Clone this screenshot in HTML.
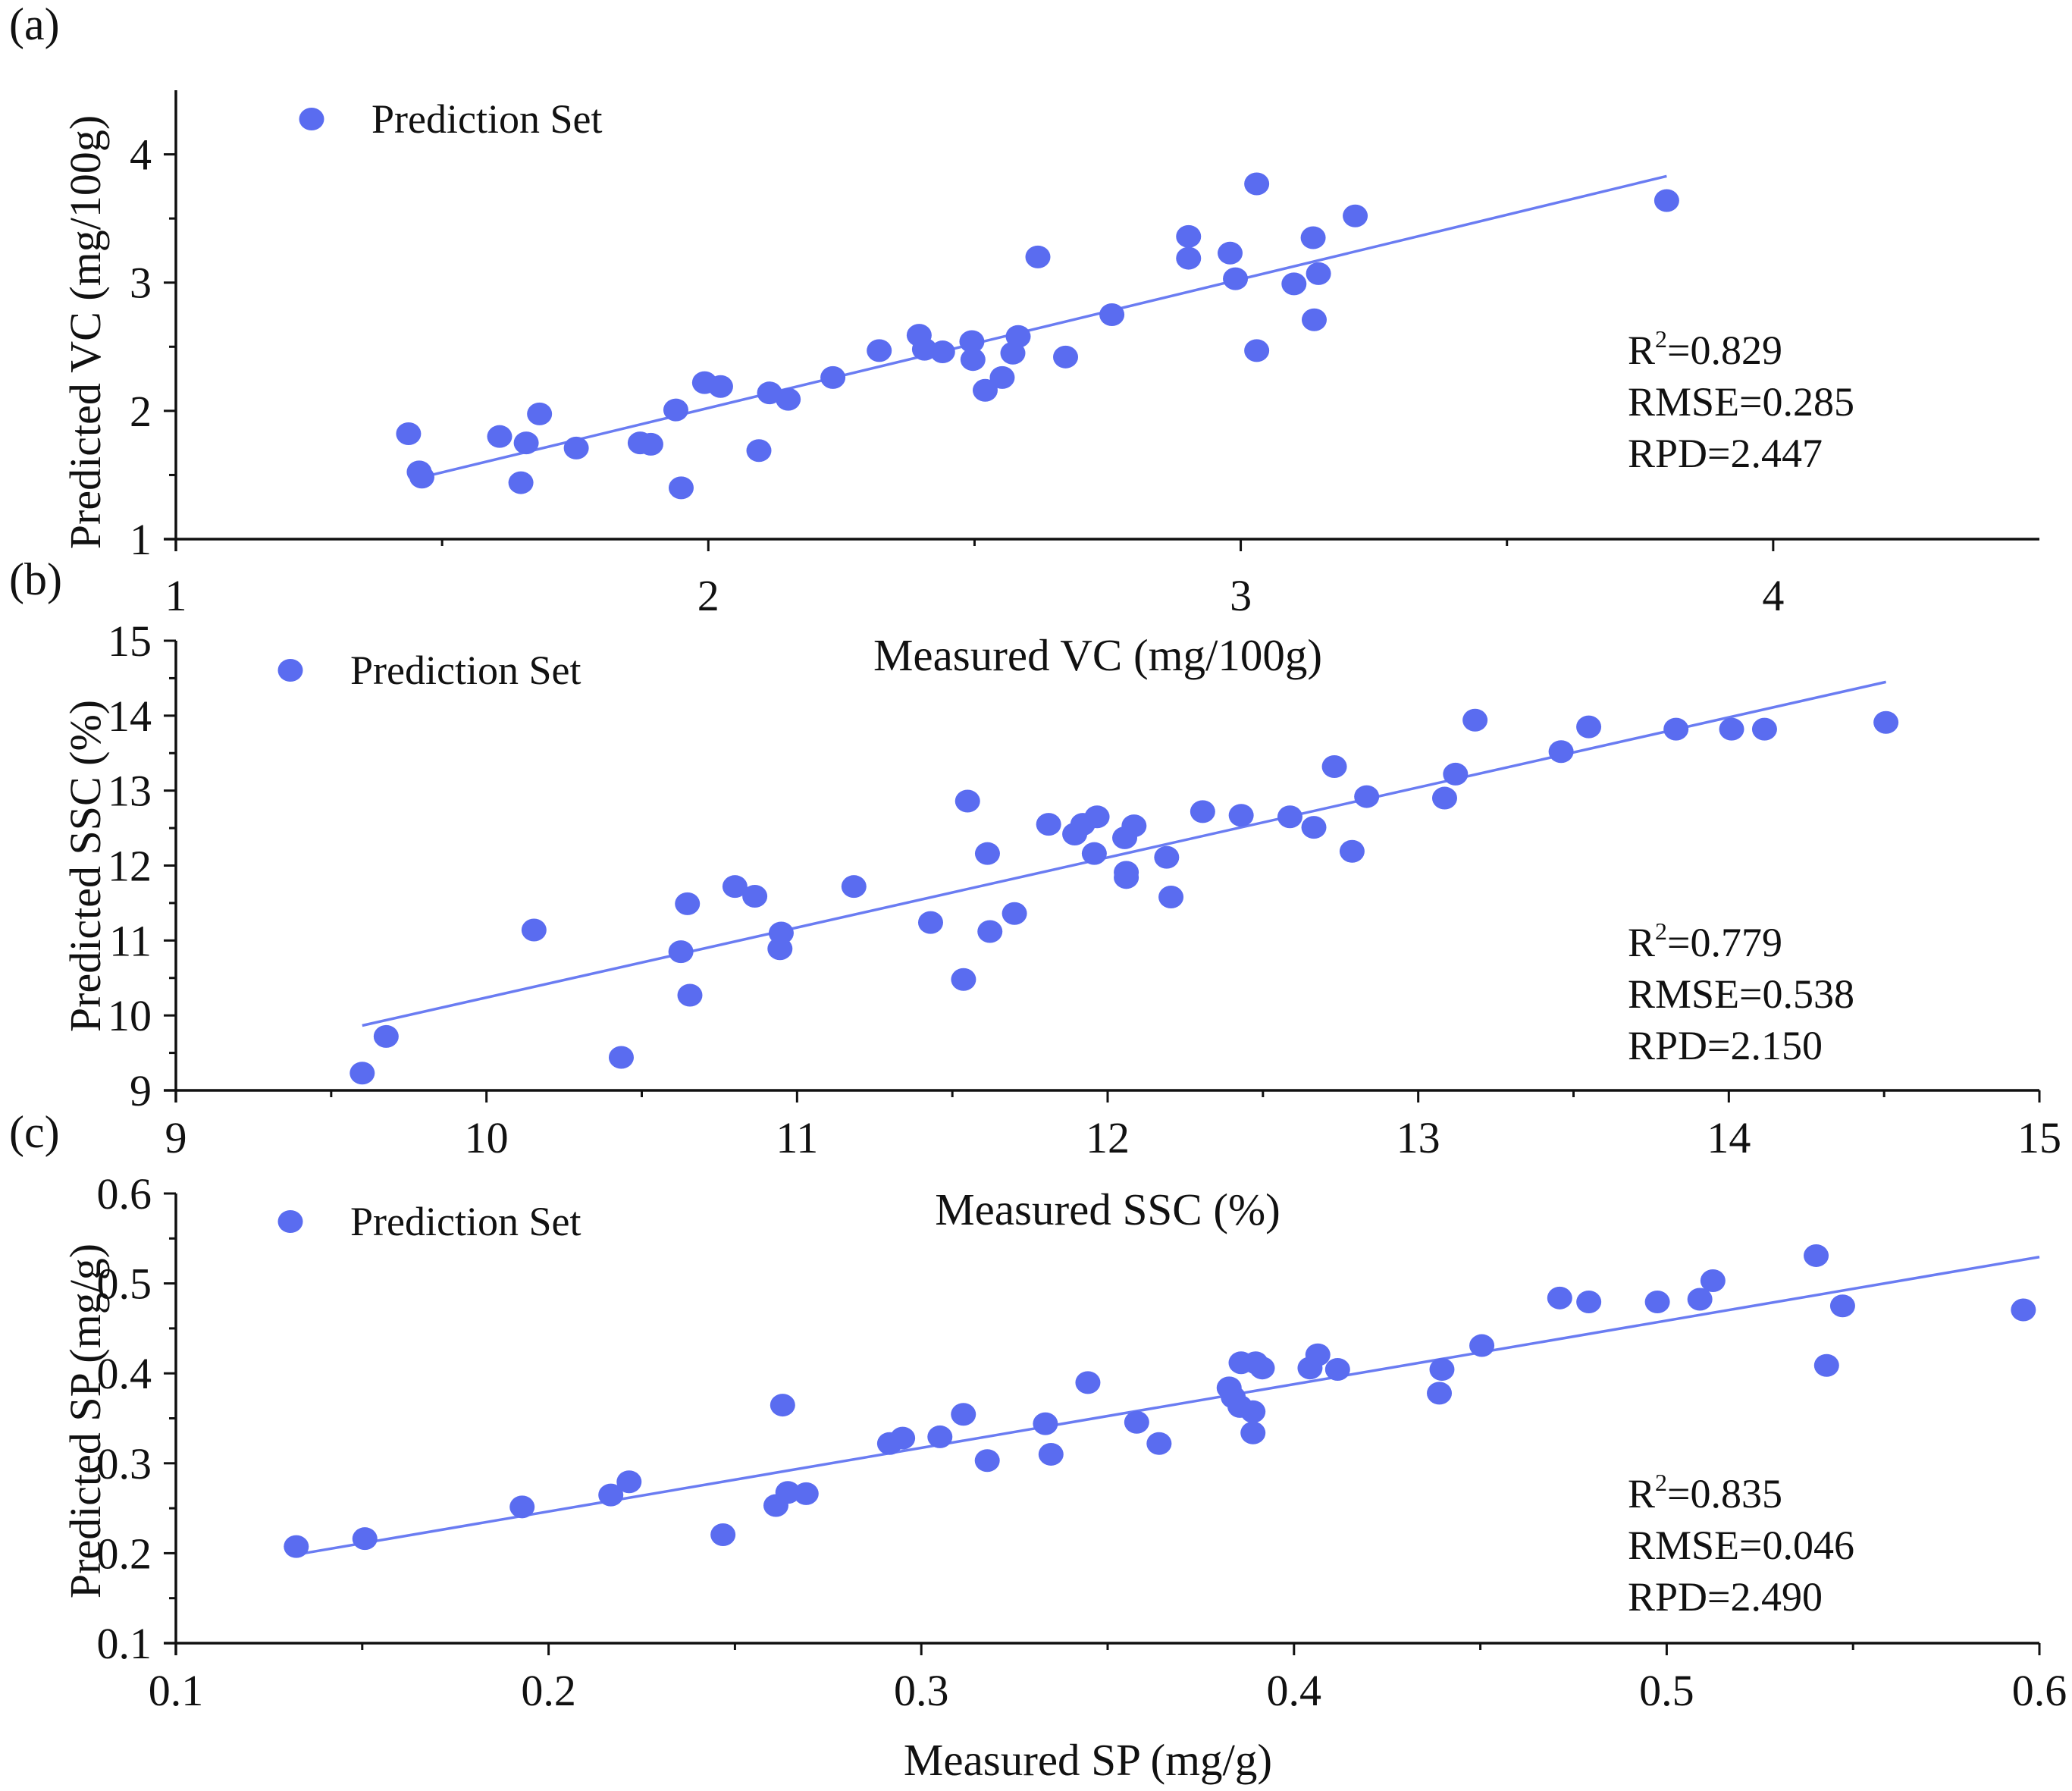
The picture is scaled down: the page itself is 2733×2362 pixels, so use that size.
<!DOCTYPE html>
<html><head><meta charset="utf-8"><style>
html,body{margin:0;padding:0;background:#fff;}
svg{display:block;font-family:"Liberation Serif",serif;}
</style></head><body>
<svg id="chart" width="2733" height="2362" viewBox="0 0 2733 2362" xmlns="http://www.w3.org/2000/svg"></svg>
<script>
// Panel (a) VC
const vcMeasured=[1.437,1.457,1.462,1.608,1.648,1.658,1.683,1.752,1.872,1.892,1.939,1.949,1.993,2.023,2.095,2.115,2.150,2.234,2.321,2.396,2.406,2.44,2.495,2.497,2.52,2.552,2.572,2.582,2.619,2.671,2.758,2.902,2.902,2.98,2.99,3.03,3.03,3.10,3.136,3.138,3.146,3.215,3.80];
const vcPredicted=[1.822,1.524,1.483,1.80,1.44,1.75,1.976,1.71,1.75,1.74,2.007,1.40,2.22,2.19,1.69,2.14,2.09,2.26,2.47,2.59,2.48,2.46,2.54,2.40,2.16,2.26,2.45,2.58,3.20,2.42,2.75,3.36,3.19,3.23,3.03,3.77,2.47,2.99,3.35,2.71,3.07,3.52,3.64];
const vcFitX=[1.46,3.80];
const vcFitY=[1.48,3.83];
const vcXTicks=[1,2,3,4];
const vcYTicks=[1,2,3,4];
const vcStats=["0.829","0.285","2.447"];
// Panel (b) SSC
const sscMeasured=[9.60,9.677,10.153,10.434,10.626,10.647,10.655,10.80,10.864,10.945,10.949,11.183,11.43,11.536,11.549,11.613,11.621,11.70,11.81,11.894,11.92,11.966,11.957,12.055,12.06,12.06,12.085,12.19,12.204,12.306,12.43,12.587,12.664,12.73,12.787,12.834,13.085,13.12,13.183,13.46,13.549,13.83,14.009,14.115,14.506];
const sscPredicted=[9.23,9.72,11.14,9.44,10.85,11.49,10.27,11.72,11.59,10.89,11.10,11.72,11.24,10.48,12.86,12.16,11.12,11.36,12.55,12.42,12.55,12.65,12.16,12.37,11.91,11.84,12.53,12.11,11.58,12.72,12.67,12.65,12.51,13.32,12.19,12.92,12.90,13.22,13.94,13.52,13.85,13.82,13.82,13.82,13.91];
const sscFitX=[9.60,14.506];
const sscFitY=[9.865,14.45];
const sscXTicks=[9,10,11,12,13,14,15];
const sscYTicks=[9,10,11,12,13,14,15];
const sscStats=["0.779","0.538","2.150"];
// Panel (c) SP
const spMeasured=[0.1323,0.1507,0.1929,0.2167,0.2216,0.2468,0.261,0.2628,0.2642,0.2691,0.2915,0.295,0.305,0.3113,0.3177,0.3333,0.3348,0.3447,0.3578,0.3638,0.3826,0.3837,0.3855,0.3858,0.389,0.389,0.3897,0.3915,0.4043,0.4064,0.4117,0.439,0.4397,0.4504,0.4713,0.4791,0.4975,0.5089,0.5124,0.5401,0.5429,0.5472,0.5957];
const spPredicted=[0.2074,0.2162,0.2515,0.2647,0.2794,0.2206,0.253,0.3647,0.2676,0.2662,0.322,0.328,0.3294,0.3544,0.303,0.344,0.310,0.3897,0.3456,0.322,0.3838,0.3735,0.3632,0.4118,0.3574,0.3338,0.4118,0.4059,0.4059,0.4206,0.4044,0.3779,0.4044,0.4309,0.4838,0.4794,0.4794,0.4824,0.503,0.5309,0.4088,0.475,0.4706];
const spFitX=[0.1323,0.6];
const spFitY=[0.1985,0.5294];
const spXTicks=["0.1","0.2","0.3","0.4","0.5","0.6"];
const spYTicks=["0.1","0.2","0.3","0.4","0.5","0.6"];
const spStats=["0.835","0.046","2.490"];

const NS="http://www.w3.org/2000/svg";
const svg=document.getElementById('chart');
function mk(tag,attrs,parent){const e=document.createElementNS(NS,tag);for(const k in attrs)e.setAttribute(k,attrs[k]);(parent||svg).appendChild(e);return e;}
const PT="#5a6cf0", LN="#6a7cf2";

function panel(o){
  const g=mk('g',{});
  
  
  const L=232,R=2690,T=o.top,B=o.bottom;
  const sx=v=>L+(v-o.xmin)/(o.xmax-o.xmin)*(R-L);
  const sy=v=>B-(v-o.ymin)/(o.ymax-o.ymin)*(B-T);
  const ya=mk('line',{x1:L,y1:T,x2:L,y2:B+16,stroke:'#111','stroke-width':3.5},g);
  
  const xa=mk('line',{x1:L-16,y1:B,x2:R,y2:B,stroke:'#111','stroke-width':3.5},g);
  
  const xt=o.xTicks.map(Number);
  const xstep=xt[1]-xt[0];
  for(let i=0;i<xt.length;i++){
    const x=sx(xt[i]);
    mk('line',{x1:x,y1:B,x2:x,y2:B+16,stroke:'#111','stroke-width':3},g);
    if(i<xt.length-1){const xm=sx(xt[i]+xstep/2);mk('line',{x1:xm,y1:B,x2:xm,y2:B+9,stroke:'#111','stroke-width':3},g);}
    const t=mk('text',{x:x,y:o.xLabY,'font-size':58,'text-anchor':'middle',fill:'#111'},g);
    t.textContent=o.xTicks[i];
    
  }
  const yt=o.yTicks.map(Number);
  const ystep=yt[1]-yt[0];
  for(let i=0;i<yt.length;i++){
    const y=sy(yt[i]);
    mk('line',{x1:L-16,y1:y,x2:L,y2:y,stroke:'#111','stroke-width':3},g);
    if(i<yt.length-1){const ym=sy(yt[i]+ystep/2);mk('line',{x1:L-9,y1:ym,x2:L,y2:ym,stroke:'#111','stroke-width':3},g);}
    const t=mk('text',{x:200,y:y+20,'font-size':58,'text-anchor':'end',fill:'#111'},g);
    t.textContent=o.yTicks[i];
    
  }
  const fl=mk('line',{x1:sx(o.fx[0]),y1:sy(o.fy[0]),x2:sx(o.fx[1]),y2:sy(o.fy[1]),stroke:LN,'stroke-width':3.5},g);
  
  for(let i=0;i<o.xs.length;i++){
    const c=mk('ellipse',{cx:sx(o.xs[i]),cy:sy(o.ys[i]),rx:16.5,ry:15,fill:PT},g);
    
    
  }
  const lm=mk('ellipse',{cx:o.legX,cy:o.legY,rx:16.5,ry:15,fill:PT},g);
  
  const lt=mk('text',{x:o.legX+79,y:o.legY+18,'font-size':54,fill:'#111'},g);
  lt.textContent='Prediction Set';
  
  const labels=['R','RMSE=','RPD='];
  for(let i=0;i<3;i++){
    const t=mk('text',{x:2147,y:o.statY+i*68+18,'font-size':54,fill:'#111'},g);
    if(i===0){t.innerHTML='R<tspan font-size="32" dy="-22">2</tspan><tspan dy="22">=</tspan>'+o.stats[0];}
    else t.textContent=labels[i]+o.stats[i];
    
  }
  const xtT=mk('text',{x:o.xTitleX,y:o.xTitleY,'font-size':59,'text-anchor':'middle',fill:'#111'},g);
  xtT.textContent=o.xTitle;
  const cy=o.yTitleY;
  const ytT=mk('text',{x:0,y:0,'font-size':58,'text-anchor':'middle',fill:'#111',transform:`translate(132,${cy}) rotate(-90)`},g);
  ytT.textContent=o.yTitle;
  const pl=mk('text',{x:12,y:o.plY,'font-size':60,fill:'#111'},g);
  pl.textContent=o.pl;
}
panel({key:'vc',top:119,bottom:711,xmin:1,xmax:4.5,ymin:1,ymax:4.5,xs:vcMeasured,ys:vcPredicted,fx:vcFitX,fy:vcFitY,xTicks:vcXTicks,yTicks:vcYTicks,xLabY:805,legX:411,legY:157,statY:462,stats:vcStats,xTitle:'Measured VC (mg/100g)',xTitleX:1448,xTitleY:884,yTitle:'Predicted VC (mg/100g)',yTitleY:438,pl:'(a)',plY:52});
panel({key:'ssc',top:845,bottom:1438,xmin:9,xmax:15,ymin:9,ymax:15,xs:sscMeasured,ys:sscPredicted,fx:sscFitX,fy:sscFitY,xTicks:sscXTicks,yTicks:sscYTicks,xLabY:1520,legX:383,legY:884,statY:1243,stats:sscStats,xTitle:'Measured SSC (%)',xTitleX:1461,xTitleY:1615,yTitle:'Predicted SSC (%)',yTitleY:1142,pl:'(b)',plY:784});
panel({key:'sp',top:1574,bottom:2167,xmin:0.1,xmax:0.6,ymin:0.1,ymax:0.6,xs:spMeasured,ys:spPredicted,fx:spFitX,fy:spFitY,xTicks:spXTicks,yTicks:spYTicks,xLabY:2249,legX:383,legY:1611,statY:1970,stats:spStats,xTitle:'Measured SP (mg/g)',xTitleX:1435,xTitleY:2341,yTitle:'Predicted SP (mg/g)',yTitleY:1874,pl:'(c)',plY:1513});
</script>
</body></html>
